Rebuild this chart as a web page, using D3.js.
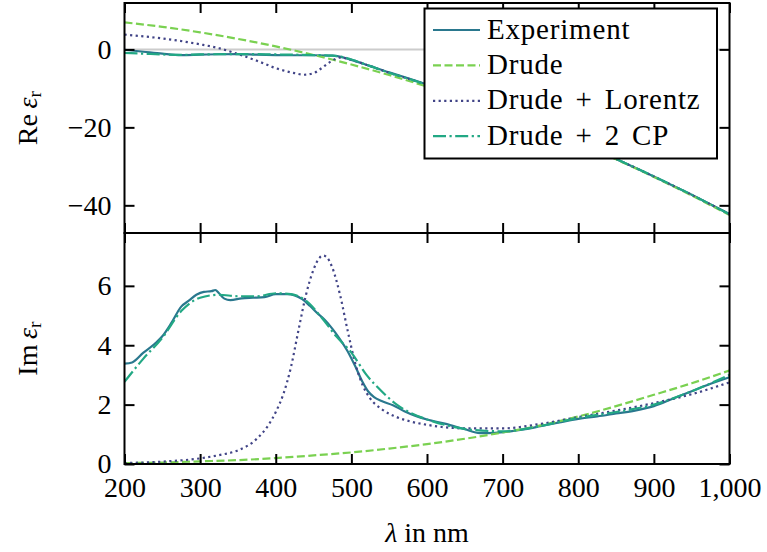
<!DOCTYPE html>
<html>
<head>
<meta charset="utf-8">
<script src="https://cdn.jsdelivr.net/npm/d3@7"></script>
<style>
  html, body { margin: 0; padding: 0; background: #fff; }
  svg { display: block; }
  svg text { font-family: "Liberation Serif", "DejaVu Serif", serif !important; fill: #000; }
</style>
</head>
<body>
<svg id="chart" width="767" height="552"></svg>
<script>
// ---- Data: permittivity of the metal film vs. wavelength (nm) ----
const seriesNames = ["Experiment", "Drude", "Drude + Lorentz", "Drude + 2 CP"];
const xTicks = [200, 300, 400, 500, 600, 700, 800, 900, 1000];
const reTicks = [0, -20, -40];
const imTicks = [0, 2, 4, 6];

// Real part
const reExperimentNm = [200, 225, 250, 275, 300, 325, 350, 375, 400, 425, 450, 475, 490, 500, 525, 550, 575, 600, 650, 700, 750, 800, 850, 900, 950, 1000];
const reExperiment   = [-0.1, -0.6, -1.1, -1.45, -1.35, -1.25, -1.2, -1.35, -1.45, -1.5, -1.5, -1.6, -2.1, -2.7, -4.3, -5.9, -7.4, -9.0, -12.6, -16.2, -19.9, -23.9, -28.1, -32.6, -37.3, -42.2];

const reDrudeNm = [200, 250, 300, 350, 400, 450, 500, 550, 600, 650, 700, 750, 800, 850, 900, 950, 1000];
const reDrude   = [6.94, 5.78, 4.37, 2.69, 0.76, -1.43, -3.88, -6.58, -9.54, -12.76, -16.24, -19.97, -23.96, -28.21, -32.72, -37.48, -42.5];

const reLorentzNm = [200, 250, 300, 325, 350, 375, 400, 425, 437, 450, 460, 472, 485, 500, 525, 550, 575, 600, 650, 700, 750, 800, 850, 900, 950, 1000];
const reLorentz   = [3.8, 2.8, 1.3, 0.3, -1.2, -2.9, -4.8, -6.1, -6.5, -6.1, -4.9, -3.2, -2.1, -2.7, -4.3, -6.0, -7.5, -9.1, -12.6, -16.2, -19.9, -23.9, -28.1, -32.6, -37.3, -42.3];

const reCpNm = [200, 225, 250, 275, 300, 350, 400, 450, 475, 490, 500, 525, 550, 575, 600, 650, 700, 750, 800, 850, 900, 950, 1000];
const reCp   = [-0.9, -1.1, -1.3, -1.4, -1.3, -1.2, -1.3, -1.45, -1.6, -2.0, -2.6, -4.3, -6.0, -7.5, -9.1, -12.6, -16.2, -19.9, -23.9, -28.1, -32.6, -37.3, -42.3];

// Imaginary part
const imExperimentNm = [200, 210, 225, 240, 250, 262, 275, 285, 295, 305, 315, 320, 325, 332, 340, 355, 370, 385, 400, 415, 425, 435, 445, 455, 465, 475, 485, 495, 505, 515, 522, 530, 540, 555, 570, 585, 600, 625, 650, 670, 690, 710, 730, 750, 775, 800, 825, 850, 875, 900, 925, 950, 975, 1000];
const imExperiment   = [3.38, 3.42, 3.75, 4.05, 4.3, 4.75, 5.3, 5.5, 5.7, 5.8, 5.82, 5.86, 5.75, 5.57, 5.52, 5.58, 5.6, 5.62, 5.72, 5.72, 5.68, 5.55, 5.33, 5.08, 4.85, 4.55, 4.2, 3.8, 3.3, 2.75, 2.45, 2.25, 2.12, 1.98, 1.78, 1.62, 1.5, 1.35, 1.17, 1.04, 1.05, 1.1, 1.17, 1.27, 1.4, 1.52, 1.6, 1.7, 1.8, 1.95, 2.2, 2.45, 2.7, 2.92];

const imDrudeNm = [200, 250, 300, 350, 400, 450, 500, 550, 600, 650, 700, 750, 800, 850, 900, 950, 1000];
const imDrude   = [0.03, 0.05, 0.09, 0.13, 0.2, 0.29, 0.39, 0.52, 0.67, 0.85, 1.06, 1.3, 1.6, 1.95, 2.33, 2.72, 3.15];

const imLorentzNm = [200, 250, 300, 325, 350, 375, 390, 400, 410, 420, 430, 440, 450, 458, 463, 468, 475, 485, 495, 505, 515, 525, 540, 560, 580, 600, 650, 700, 750, 800, 850, 900, 950, 1000];
const imLorentz   = [0.03, 0.08, 0.19, 0.3, 0.46, 0.85, 1.3, 1.75, 2.35, 3.25, 4.5, 5.7, 6.55, 6.95, 7.02, 6.95, 6.6, 5.7, 4.5, 3.4, 2.65, 2.2, 1.85, 1.58, 1.42, 1.32, 1.2, 1.2, 1.35, 1.58, 1.8, 2.05, 2.35, 2.75];

const imCpNm = [200, 225, 250, 275, 300, 325, 350, 375, 400, 420, 440, 460, 480, 500, 520, 540, 560, 580, 600, 630, 660, 700, 750, 800, 850, 900, 950, 1000];
const imCp   = [2.77, 3.55, 4.25, 5.15, 5.6, 5.7, 5.65, 5.65, 5.75, 5.72, 5.5, 4.95, 4.3, 3.75, 3.0, 2.45, 2.0, 1.7, 1.5, 1.28, 1.15, 1.1, 1.28, 1.55, 1.75, 2.0, 2.45, 3.0];

// ---- Styles ----
const styles = [
  { color: "#2a788e", dash: null },
  { color: "#7ad151", dash: "8,3.5" },
  { color: "#414487", dash: "2.2,3.4" },
  { color: "#22a884", dash: "13,3.5,2.2,3.5" }
];
const lineWidth = 2.2;
const serif = "'Liberation Serif', 'DejaVu Serif', serif";

const zip = (xs, ys) => xs.map((x, i) => [x, ys[i]]);
const reSeries = [zip(reExperimentNm, reExperiment), zip(reDrudeNm, reDrude), zip(reLorentzNm, reLorentz), zip(reCpNm, reCp)];
const imSeries = [zip(imExperimentNm, imExperiment), zip(imDrudeNm, imDrude), zip(imLorentzNm, imLorentz), zip(imCpNm, imCp)];

// ---- Layout ----
const svg = d3.select("#chart");
const left = 124.5, right = 729.5;
const topPanel = { y0: 3, y1: 233 };
const botPanel = { y0: 233, y1: 464 };
const fontSize = 28;

const x = d3.scaleLinear().domain([200, 1000]).range([left, right]);
const yRe = d3.scaleLinear().domain([-47.1, 11.9]).range([topPanel.y1, topPanel.y0]);
const yIm = d3.scaleLinear().domain([0, 7.78]).range([botPanel.y1, botPanel.y0]);

const defs = svg.append("defs");
function clip(id, p) {
  defs.append("clipPath").attr("id", id).append("rect")
    .attr("x", left).attr("y", p.y0).attr("width", right - left).attr("height", p.y1 - p.y0);
}
clip("clipRe", topPanel);
clip("clipIm", botPanel);

function drawLines(g, series, yScale) {
  const line = d3.line().x(d => x(d[0])).y(d => yScale(d[1])).curve(d3.curveMonotoneX);
  series.forEach((s, i) => {
    g.append("path")
      .attr("d", line(s))
      .attr("fill", "none")
      .attr("stroke", styles[i].color)
      .attr("stroke-width", lineWidth)
      .attr("stroke-dasharray", styles[i].dash)
      .attr("stroke-linejoin", "round");
  });
}

// Top panel: real part
const gRe = svg.append("g").attr("clip-path", "url(#clipRe)");
gRe.append("line")
  .attr("x1", left).attr("x2", right)
  .attr("y1", yRe(0)).attr("y2", yRe(0))
  .attr("stroke", "#cccccc").attr("stroke-width", 2);
drawLines(gRe, reSeries, yRe);

// Bottom panel: imaginary part
const gIm = svg.append("g").attr("clip-path", "url(#clipIm)");
drawLines(gIm, imSeries, yIm);

// ---- Axes (ticks on all four sides, pointing inward) ----
function styleAxis(g) {
  g.attr("font-family", serif).attr("font-size", fontSize);
  g.select(".domain").remove();
  g.selectAll(".tick line").attr("stroke", "#000").attr("stroke-width", 2);
  g.selectAll(".tick text").attr("fill", "#000");
}
function panelAxes(p, yScale, ticksY, showX) {
  const xb = svg.append("g").attr("transform", `translate(0,${p.y1})`)
    .call(d3.axisBottom(x).tickValues(xTicks).tickSize(-10).tickPadding(13)
      .tickFormat(showX ? d3.format(",") : () => ""));
  styleAxis(xb);
  const xt = svg.append("g").attr("transform", `translate(0,${p.y0})`)
    .call(d3.axisTop(x).tickValues(xTicks).tickSize(-10).tickFormat(() => ""));
  styleAxis(xt);
  const yl = svg.append("g").attr("transform", `translate(${left},0)`)
    .call(d3.axisLeft(yScale).tickValues(ticksY).tickSize(-10).tickPadding(13));
  styleAxis(yl);
  const yr = svg.append("g").attr("transform", `translate(${right},0)`)
    .call(d3.axisRight(yScale).tickValues(ticksY).tickSize(-10).tickFormat(() => ""));
  styleAxis(yr);
  svg.append("rect")
    .attr("x", left).attr("y", p.y0).attr("width", right - left).attr("height", p.y1 - p.y0)
    .attr("fill", "none").attr("stroke", "#000").attr("stroke-width", 2);
}
panelAxes(topPanel, yRe, reTicks, false);
panelAxes(botPanel, yIm, imTicks, true);

// ---- Axis titles ----
function yTitle(cx, cy, op) {
  const t = svg.append("text")
    .attr("transform", `translate(${cx},${cy}) rotate(-90)`)
    .attr("text-anchor", "middle")
    .attr("font-family", serif)
    .attr("font-size", fontSize);
  t.append("tspan").text(op + "\u2009");
  t.append("tspan").attr("font-style", "italic").text("ε");
  t.append("tspan").attr("font-size", fontSize * 0.7).attr("dy", 4).text("r");
}
yTitle(37, (topPanel.y0 + topPanel.y1) / 2, "Re");
yTitle(37, (botPanel.y0 + botPanel.y1) / 2, "Im");

const xLabel = svg.append("text")
  .attr("x", (left + right) / 2).attr("y", 542)
  .attr("text-anchor", "middle")
  .attr("font-family", serif)
  .attr("font-size", fontSize);
xLabel.append("tspan").attr("font-style", "italic").text("λ");
xLabel.append("tspan").text(" in nm");

// ---- Legend ----
const legend = svg.append("g");
legend.append("rect")
  .attr("x", 424.5).attr("y", 8.5).attr("width", 292.5).attr("height", 150)
  .attr("fill", "#fff").attr("stroke", "#000").attr("stroke-width", 2);
seriesNames.forEach((name, i) => {
  const cy = 30 + i * 35.4;
  legend.append("line")
    .attr("x1", 433).attr("x2", 480).attr("y1", cy).attr("y2", cy)
    .attr("stroke", styles[i].color).attr("stroke-width", lineWidth)
    .attr("stroke-dasharray", styles[i].dash);
  legend.append("text")
    .attr("x", 487).attr("y", cy + 8.5)
    .attr("font-family", serif)
    .attr("font-size", 29)
    .attr("letter-spacing", 0.8)
    .attr("word-spacing", 4)
    .text(name);
});
</script>
</body>
</html>
